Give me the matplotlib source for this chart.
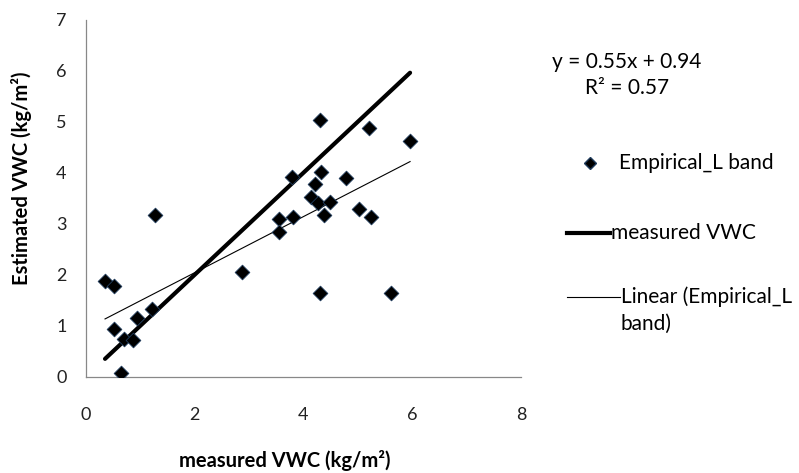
import matplotlib
matplotlib.use("Agg")
import matplotlib.pyplot as plt
from matplotlib.lines import Line2D
import numpy as np

plt.rcParams['font.family'] = ['Lato', 'DejaVu Sans']

# Data
measured = [0.35, 0.51, 1.26, 0.51, 0.69, 0.87, 0.93, 1.21, 0.64, 2.86,
            3.55, 3.55, 3.81, 3.78, 4.31, 5.21, 5.96, 4.33, 4.22, 4.13,
            4.27, 4.49, 4.38, 4.79, 5.02, 5.24, 4.30, 5.61]
estimated = [1.88, 1.77, 3.18, 0.93, 0.73, 0.72, 1.16, 1.32, 0.08, 2.06,
             3.09, 2.83, 3.14, 3.91, 5.03, 4.87, 4.63, 4.01, 3.78, 3.53,
             3.40, 3.43, 3.17, 3.89, 3.28, 3.14, 1.65, 1.65]
slope = 0.55
intercept = 0.94
r2 = 0.57
xticks = [0, 2, 4, 6, 8]
yticks = [0, 1, 2, 3, 4, 5, 6, 7]

W, H = 799, 473
fig = plt.figure(figsize=(W / 100, H / 100), dpi=100)
ax = fig.add_axes([86 / W, 1 - 376.7 / H, (521 - 86) / W, (376.7 - 19.7) / H])

mx = np.array(measured)
xs = np.array([mx.min(), mx.max()])
ax.plot(xs, xs, color='black', lw=3.0, solid_capstyle='round', zorder=2)
ax.plot(xs, slope * xs + intercept, color='black', lw=0.8, zorder=2)
ax.scatter(measured, estimated, marker='D', s=7.5 ** 2, color='black',
           edgecolors='#1f3b5c', linewidths=0.6, zorder=3)

ax.set_xlim(0, 8)
ax.set_ylim(0, 7)
ax.set_xticks(xticks)
ax.set_yticks(yticks)
ax.tick_params(length=0, labelsize=13, colors='#222222')
ax.tick_params(axis='x', pad=22)
ax.tick_params(axis='y', pad=14)
for s in ['top', 'right']:
    ax.spines[s].set_visible(False)
for s in ['left', 'bottom']:
    ax.spines[s].set_color('#888888')
    ax.spines[s].set_linewidth(0.9)

ax.set_xlabel('measured VWC (kg/m²)', fontsize=14.5, fontweight='bold')
ax.set_ylabel('Estimated VWC (kg/m²)', fontsize=14.5, fontweight='bold')
ax.xaxis.set_label_coords((285 - 86) / (521 - 86), -(460 - 376.7) / (376.7 - 19.7))
ax.yaxis.set_label_coords(-(86 - 22) / (521 - 86), (376.7 - 178) / (376.7 - 19.7))
ax.xaxis.label.set_va('center')
ax.yaxis.label.set_va('center')

def fx(px):
    return px / W

def fy(py):
    return 1 - py / H

fs = 15
fig.text(fx(552), fy(62), f'y = {slope}x + {intercept}', fontsize=fs, va='center', ha='left')
fig.text(fx(585), fy(88), f'R² = {r2}', fontsize=fs, va='center', ha='left')

# legend
fig.add_artist(Line2D([fx(590)], [fy(163)], marker='D', markersize=6.5, color='black',
                      markeredgecolor='#1f3b5c', linestyle='none', transform=fig.transFigure))
fig.text(fx(619), fy(163), 'Empirical_L band', fontsize=fs, va='center', ha='left')
fig.add_artist(Line2D([fx(567), fx(610)], [fy(233), fy(233)], color='black', lw=3.0,
                      transform=fig.transFigure))
fig.text(fx(611), fy(233), 'measured VWC', fontsize=fs, va='center', ha='left')
fig.add_artist(Line2D([fx(567), fx(620)], [fy(297), fy(297)], color='black', lw=0.8,
                      transform=fig.transFigure))
fig.text(fx(621), fy(297), 'Linear (Empirical_L', fontsize=fs, va='center', ha='left')
fig.text(fx(621), fy(324), 'band)', fontsize=fs, va='center', ha='left')

fig.savefig('out.png', dpi=100)
